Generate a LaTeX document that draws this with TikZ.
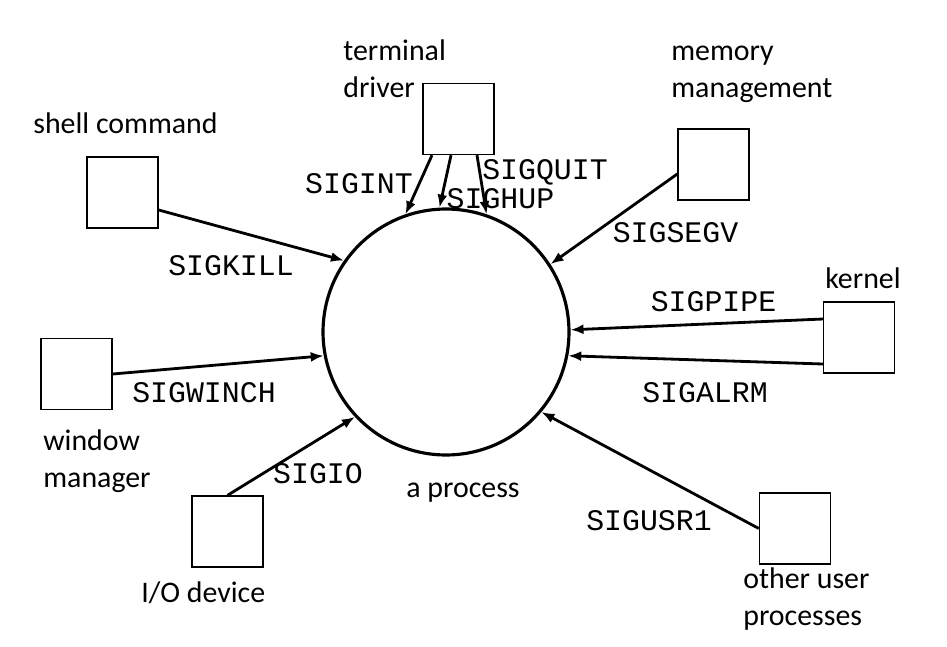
\documentclass[tikz,border=0pt]{standalone}
\usepackage{fontspec}
\setmainfont{Carlito}
\newfontfamily\sigfont{Liberation Mono}
\usetikzlibrary{arrows.meta}
\begin{document}
\begin{tikzpicture}[x=0.02cm,y=-0.02cm,
	every node/.style={inner sep=0pt},
	src/.style={draw,line width=0.8pt,minimum size=1.42cm},
	sig/.style={font=\sigfont\fontsize{17}{20}\selectfont},
	lbl/.style={font=\fontsize{17}{21}\selectfont,align=left,anchor=base west},
	msg/.style={line width=1.6pt,-{Latex[length=2.6mm,width=2mm]}}]
	\useasboundingbox (0,0) rectangle (947,646);
	\node[draw,circle,line width=1.8pt,minimum size=4.92cm] (proc) at (446,332) {};
	\node[lbl] at (406,497) {a process};
	% sources
	\node[src] (shell) at (122.5,192.5) {};
	\node[lbl] at (33,133) {shell command};
	\node[src] (term) at (458.5,119) {};
	\node[lbl] at (343,97) {terminal\\driver};
	\node[src] (mem) at (713.5,164.5) {};
	\node[lbl] at (671,97) {memory\\management};
	\node[src] (kern) at (859,337.5) {};
	\node[lbl] at (825,288) {kernel};
	\node[src] (win) at (76.5,374) {};
	\node[lbl] at (43,487) {window\\manager};
	\node[src] (io) at (227.5,531.5) {};
	\node[lbl] at (141,602) {I/O device};
	\node[src] (other) at (795,528.5) {};
	\node[lbl] at (743,625) {other user\\processes};
	% signals
	\draw[msg] ([yshift=-0.35cm]shell.east) -- (proc.145);
	\node[sig] at (231,266) {SIGKILL};
	\draw[msg] ([xshift=-0.53cm]term.south) -- (proc.109);
	\node[sig] at (359,184) {SIGINT};
	\draw[msg] ([xshift=-0.15cm]term.south) -- (proc.93);
	\node[sig] at (500.5,199) {SIGHUP};
	\draw[msg] ([xshift=0.37cm]term.south) -- (proc.71);
	\node[sig] at (545,172) {SIGQUIT};
	\draw[msg] ([yshift=-0.19cm]mem.west) -- (proc.33);
	\node[sig] at (675.5,233) {SIGSEGV};
	\draw[msg] ([yshift=0.37cm]kern.west) -- (proc.1.5);
	\node[sig] at (713.5,302) {SIGPIPE};
	\draw[msg] ([yshift=-0.53cm]kern.west) -- (proc.349);
	\node[sig] at (705,393) {SIGALRM};
	\draw[msg] (win.east) -- (proc.191);
	\node[sig] at (204,393) {SIGWINCH};
	\draw[msg] (io.north) -- (proc.223);
	\node[sig] at (318,474) {SIGIO};
	\draw[msg] (other.west) -- (proc.320);
	\node[sig] at (649,521) {SIGUSR1};
\end{tikzpicture}
\end{document}
